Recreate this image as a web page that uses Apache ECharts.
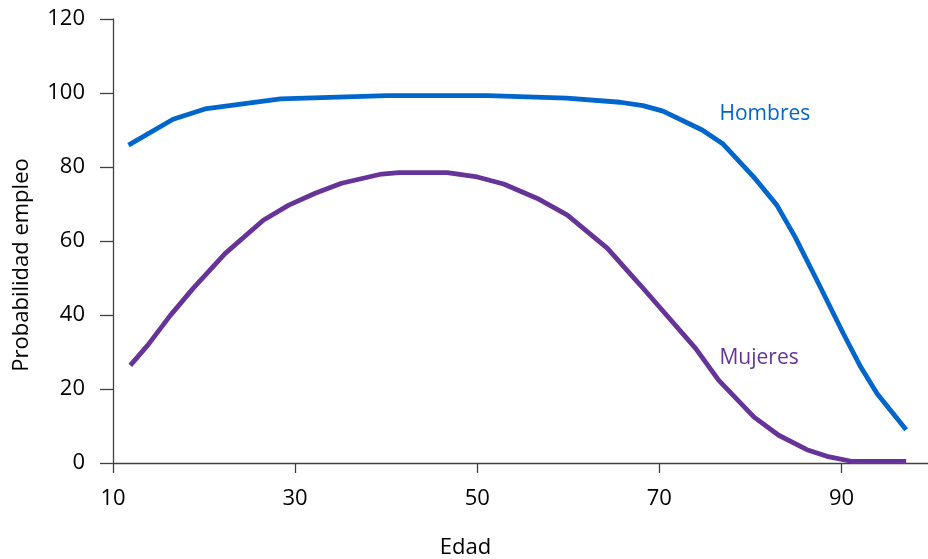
<!DOCTYPE html>
<html>
<head>
<meta charset="utf-8">
<script src="https://cdn.jsdelivr.net/npm/echarts@6/dist/echarts.min.js"></script>
<style>
html,body{margin:0;padding:0;background:#fff;}
#c{width:928px;height:559px;}
</style>
</head>
<body>
<div id="c"></div>
<script>
// Data
const xTicks = [10, 30, 50, 70, 90];
const yTicks = [0, 20, 40, 60, 80, 100, 120];

const agesHombres = [11.7, 16.6, 20.1, 28.4, 40.1, 51.2, 59.8, 65.7, 68.2, 70.4, 74.7, 77.0, 80.5, 82.9, 84.9, 87.3, 90.2, 92.1, 93.9, 97.1];
const hombres     = [85.9, 92.9, 95.7, 98.4, 99.3, 99.3, 98.6, 97.5, 96.6, 95.1, 90.0, 86.2, 76.9, 69.7, 61.1, 49.4, 35.0, 26.0, 18.8, 9.0];

const agesMujeres = [11.9, 13.8, 16.3, 18.8, 22.3, 26.5, 29.3, 32.2, 35.1, 39.5, 41.4, 46.7, 50.0, 52.9, 56.6, 59.9, 64.3, 67.9, 74.0, 76.5, 80.4, 83.1, 86.2, 88.4, 91.2, 97.1];
const mujeres     = [26.4, 31.8, 39.9, 47.2, 56.6, 65.6, 69.7, 72.9, 75.6, 78.1, 78.5, 78.5, 77.3, 75.4, 71.5, 67.0, 58.0, 48.1, 30.9, 22.4, 12.4, 7.5, 3.6, 1.8, 0.4, 0.4];

const seriesNames = ['Hombres', 'Mujeres'];
const labelAnchors = [[76.6, 94.3], [76.6, 28.3]];

const colors = ['#0066cc', '#663399'];
const FONT = '"Open Sans", "Noto Sans", sans-serif';

const pairs = (xs, ys) => xs.map((x, i) => [x, ys[i]]);

const chart = echarts.init(document.getElementById('c'), null, {renderer: 'canvas'});

function mkLabelPoint(name, anchor, color) {
  return {
    symbol: 'circle',
    symbolSize: 0,
    silent: true,
    data: [{coord: anchor, value: name}],
    label: {
      show: true,
      position: 'inside',
      align: 'left',
      verticalAlign: 'middle',
      formatter: name,
      color: color,
      fontFamily: FONT,
      fontSize: 21
    },
    itemStyle: {color: 'transparent'}
  };
}

chart.setOption({
  animation: false,
  backgroundColor: '#ffffff',
  grid: {left: 113, right: 0, top: 19, bottom: 96, containLabel: false, outerBoundsMode: 'none'},
  xAxis: {
    type: 'value',
    min: 10,
    max: 99.5,
    interval: 20,
    name: 'Edad',
    nameLocation: 'middle',
    nameGap: 74,
    nameTextStyle: {color: '#000', fontFamily: FONT, fontSize: 22, padding: [0, 110, 0, 0]},
    axisLine: {show: true, onZero: false, lineStyle: {color: '#404040', width: 1.3}},
    axisTick: {show: true, length: 10, customValues: xTicks, lineStyle: {color: '#404040', width: 1.3}},
    axisLabel: {customValues: xTicks, margin: 25, color: '#000', fontFamily: FONT, fontSize: 22},
    splitLine: {show: false}
  },
  yAxis: {
    type: 'value',
    min: 0,
    max: 120,
    interval: 20,
    name: 'Probabilidad empleo',
    nameLocation: 'middle',
    nameRotate: 90,
    nameGap: 80,
    nameTextStyle: {color: '#000', fontFamily: FONT, fontSize: 22, padding: [0, 48, 0, 0]},
    axisLine: {show: true, lineStyle: {color: '#404040', width: 1.3}},
    axisTick: {show: true, length: 13, customValues: yTicks, lineStyle: {color: '#404040', width: 1.3}},
    axisLabel: {customValues: yTicks, margin: 28, color: '#000', fontFamily: FONT, fontSize: 22},
    splitLine: {show: false}
  },
  series: [
    {
      name: seriesNames[0],
      type: 'line',
      data: pairs(agesHombres, hombres),
      showSymbol: false,
      symbol: 'none',
      lineStyle: {color: colors[0], width: 4.8},
      markPoint: mkLabelPoint(seriesNames[0], labelAnchors[0], colors[0])
    },
    {
      name: seriesNames[1],
      type: 'line',
      data: pairs(agesMujeres, mujeres),
      showSymbol: false,
      symbol: 'none',
      lineStyle: {color: colors[1], width: 4.8},
      markPoint: mkLabelPoint(seriesNames[1], labelAnchors[1], colors[1])
    }
  ]
});
</script>
</body>
</html>
